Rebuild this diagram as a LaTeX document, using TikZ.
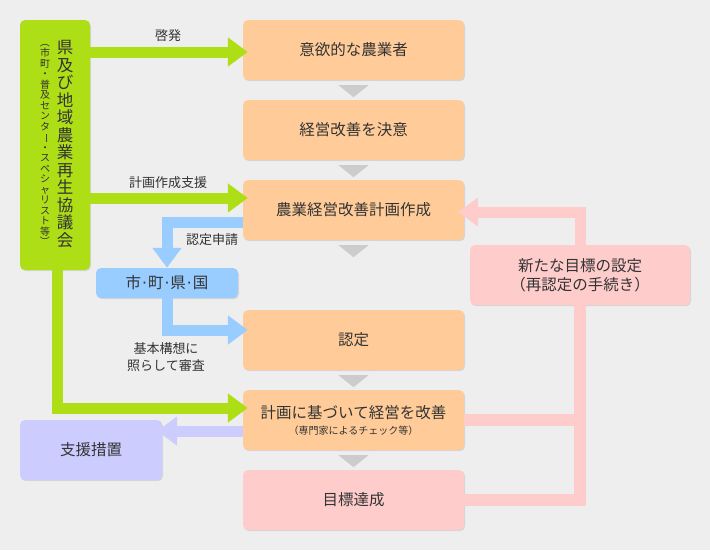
\documentclass[tikz,border=0pt]{standalone}
\usepackage{fontspec}
\setmainfont{Noto Sans CJK JP}
\newfontfamily\dotfont{DejaVu Sans}
\usetikzlibrary{arrows.meta,shadows}
\definecolor{bgc}{RGB}{238,238,238}
\definecolor{txt}{RGB}{51,51,51}
\definecolor{orng}{RGB}{255,204,153}
\definecolor{pnk}{RGB}{255,204,204}
\definecolor{grn}{RGB}{174,222,22}
\definecolor{blu}{RGB}{153,204,255}
\definecolor{prp}{RGB}{204,204,255}
\definecolor{tri}{RGB}{204,204,204}
\tikzset{
  box/.style={rounded corners=5pt, minimum width=221pt, minimum height=60pt,
    inner sep=0pt, text=txt, align=center, font=\fontsize{15.5}{19}\selectfont,
    drop shadow={shadow xshift=1pt, shadow yshift=-1.2pt, fill=black!25}},
  fat/.style={line width=11pt, line join=miter,
    -{Triangle[width=28pt,length=20pt]}},
  lbl/.style={text=txt, font=\fontsize{13}{17}\selectfont, align=center}
}
\newcommand\rot[1]{\rotatebox[origin=c]{-90}{#1}}
\newcommand\dt{{\dotfont\kern1pt·\kern1pt}}

\begin{document}
\begin{tikzpicture}[x=1pt,y=-1pt]
  \fill[bgc] (0,0) rectangle (710,550);

  % boxes
  \node[box, fill=grn, minimum width=70pt, minimum height=250pt] (gr) at (55,145) {};
  \node[box, fill=orng] (o1) at (353.5,50) {意欲的な農業者};
  \node[box, fill=orng] (o2) at (353.5,130) {経営改善を決意};
  \node[box, fill=orng] (o3) at (353.5,210) {農業経営改善計画作成};
  \node[box, fill=blu, minimum width=142pt, minimum height=30pt] (bl) at (167,283) {市\dt 町\dt 県\dt 国};
  \node[box, fill=orng] (o4) at (353.5,340) {認定};
  \node[box, fill=orng] (o5) at (353.5,420) {計画に基づいて経営を改善\\[-3pt]{\fontsize{10}{11}\selectfont （専門家によるチェック等）}};
  \node[box, fill=pnk] (o6) at (353.5,500) {目標達成};
  \node[box, fill=pnk, minimum width=220pt] (nb) at (580,275) {新たな目標の設定\\（再認定の手続き）};
  \node[box, fill=prp, minimum width=142pt] (sp) at (91,450) {支援措置};

  % vertical text in the green box
  \node[text=txt, align=center, font=\fontsize{16.5}{17.5}\selectfont] (grt) at (65,144)
    {県\\及\\び\\地\\域\\農\\業\\再\\生\\協\\議\\会};
  \node[text=txt, align=center, font=\fontsize{10}{10.5}\selectfont] (grs) at (45,142)
    {\rot{（}\\市\\町\\・\\普\\及\\セ\\ン\\タ\\\rot{ー}\\・\\ス\\ペ\\シ\\ャ\\リ\\ス\\ト\\等\\\rot{）}};

  % gray steps
  \foreach \b in {o1,o2,o3,o4,o5}
    \fill[tri] ([shift={(-15pt,-5pt)}]\b.south) -- ([shift={(15pt,-5pt)}]\b.south)
      -- ([shift={(0pt,-17pt)}]\b.south) -- cycle;

  % connectors
  \coordinate (g1) at ([yshift=-2pt]o1.west);
  \coordinate (g2) at ([yshift=12pt]o3.west);
  \coordinate (g3) at ([yshift=12pt]o5.west);
  \coordinate (b1) at ([yshift=-12pt]o3.west);
  \coordinate (b2) at ([yshift=10pt]o4.west);
  \coordinate (p1) at ([yshift=-11pt]o5.west);
  \draw[fat, grn, shorten >=-5pt] (g1 -| gr.east) -- (g1);
  \draw[fat, grn, shorten >=-5pt] (g2 -| gr.east) -- (g2);
  \draw[fat, grn, shorten >=-5pt] ([xshift=2pt]gr.south) |- (g3);
  \draw[fat, blu] (b1) -| (bl.north);
  \draw[fat, blu, shorten >=-5pt] (bl.south) |- (b2);
  \draw[fat, prp, shorten >=-5pt] (p1) -- (p1 -| sp.east);
  \draw[line width=12pt, pnk, line join=miter] (o6.east) -| (nb.south);
  \draw[line width=12pt, pnk] (o5.east) -- (o5.east -| nb.south);
  \draw[fat, pnk, shorten >=-6pt] (nb.north) |- ([yshift=-2pt]o3.east);

  % labels
  \node[lbl] (l1) at (168,36) {啓発};
  \node[lbl] (l2) at (168,183) {計画作成支援};
  \node[lbl] (l3) at (212,240) {認定申請};
  \node[lbl] (l4) at (166,357) {基本構想に\\照らして審査};
\end{tikzpicture}
\end{document}
